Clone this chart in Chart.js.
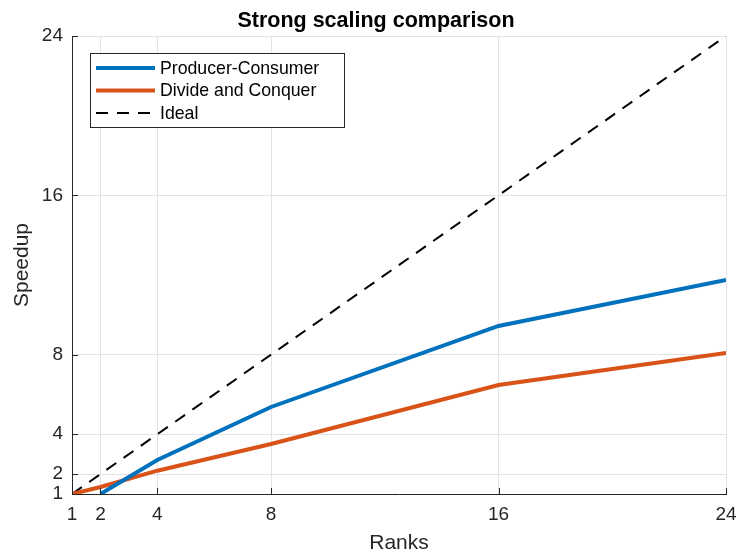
<!DOCTYPE html>
<html>
<head>
<meta charset="utf-8">
<script src="https://cdn.jsdelivr.net/npm/chart.js@4/dist/chart.umd.min.js"></script>
<style>
  html, body { margin: 0; padding: 0; background: #ffffff; }
  #wrap { width: 736px; height: 556px; }
</style>
</head>
<body>
<div id="wrap"><canvas id="c" width="736" height="556"></canvas></div>
<script>
// Strong scaling: speedup versus number of ranks
const ranks = [1, 2, 4, 8, 16, 24];
const producerConsumer = [null, 1.0, 2.71, 5.37, 9.44, 11.75];
const divideAndConquer = [1.0, 1.35, 2.17, 3.51, 6.47, 8.08];
const ideal = [1, 2, 4, 8, 16, 24];
const xTicks = [1, 2, 4, 8, 16, 24];
const yTicks = [1, 2, 4, 8, 16, 24];

const titleText = 'Strong scaling comparison';
const FONT = '"Liberation Sans", Arial, Helvetica, sans-serif';
const AXIS_COLOR = '#262626';
const GRID_COLOR = '#e3e3e3';

function toPoints(values) {
  return ranks.map((r, i) => ({ x: r, y: values[i] }));
}

// Inward-pointing tick marks on the left and bottom axes
const innerTicks = {
  id: 'innerTicks',
  afterDatasetsDraw(chart) {
    const { ctx, chartArea, scales } = chart;
    ctx.save();
    ctx.strokeStyle = AXIS_COLOR;
    ctx.lineWidth = 1;
    ctx.beginPath();
    xTicks.forEach(v => {
      const px = Math.round(scales.x.getPixelForValue(v)) + 0.5;
      ctx.moveTo(px, chartArea.bottom);
      ctx.lineTo(px, chartArea.bottom - 6);
    });
    yTicks.forEach(v => {
      const py = Math.round(scales.y.getPixelForValue(v)) + 0.5;
      ctx.moveTo(chartArea.left, py);
      ctx.lineTo(chartArea.left + 6, py);
    });
    ctx.stroke();
    ctx.restore();
  }
};

// Title above the plot
const topTitle = {
  id: 'topTitle',
  afterDraw(chart) {
    const { ctx } = chart;
    ctx.save();
    ctx.fillStyle = '#000000';
    ctx.font = 'bold 21.5px ' + FONT;
    ctx.textAlign = 'center';
    ctx.textBaseline = 'alphabetic';
    ctx.fillText(titleText, 376, 27);
    ctx.restore();
  }
};

// Boxed legend in the upper-left corner of the plot
const boxLegend = {
  id: 'boxLegend',
  afterDraw(chart) {
    const { ctx } = chart;
    const box = { x: 90.5, y: 53.5, w: 254, h: 74 };
    ctx.save();
    ctx.fillStyle = '#ffffff';
    ctx.fillRect(box.x, box.y, box.w, box.h);
    ctx.strokeStyle = AXIS_COLOR;
    ctx.lineWidth = 1;
    ctx.strokeRect(box.x, box.y, box.w, box.h);
    const rows = [68, 90.5, 113];
    ctx.font = '17.7px ' + FONT;
    ctx.textBaseline = 'middle';
    ctx.textAlign = 'left';
    chart.data.datasets.forEach((ds, i) => {
      const y = rows[i];
      ctx.beginPath();
      ctx.strokeStyle = ds.borderColor;
      ctx.lineWidth = ds.borderWidth;
      ctx.setLineDash(ds.borderDash || []);
      ctx.moveTo(96, y);
      ctx.lineTo(155, y);
      ctx.stroke();
      ctx.setLineDash([]);
      ctx.fillStyle = '#000000';
      ctx.fillText(ds.label, 160, y + 1);
    });
    ctx.restore();
  }
};

new Chart(document.getElementById('c'), {
  type: 'line',
  data: {
    datasets: [
      {
        label: 'Producer-Consumer',
        data: toPoints(producerConsumer),
        borderColor: '#0072BD',
        borderWidth: 4,
        pointRadius: 0,
        tension: 0
      },
      {
        label: 'Divide and Conquer',
        data: toPoints(divideAndConquer),
        borderColor: '#D95319',
        borderWidth: 4,
        pointRadius: 0,
        tension: 0
      },
      {
        label: 'Ideal',
        data: toPoints(ideal),
        borderColor: '#000000',
        borderWidth: 2,
        borderDash: [12, 9],
        pointRadius: 0,
        tension: 0
      }
    ]
  },
  options: {
    responsive: false,
    animation: false,
    devicePixelRatio: 1,
    layout: { padding: { top: 36, right: 10, left: 0, bottom: 0 } },
    plugins: {
      legend: { display: false },
      title: { display: false },
      tooltip: { enabled: false }
    },
    scales: {
      x: {
        type: 'linear',
        min: 1,
        max: 24,
        afterBuildTicks: s => { s.ticks = xTicks.map(v => ({ value: v })); },
        afterFit: s => { s.height = 62; s.paddingRight = 0; s.paddingLeft = 0; },
        grid: { color: GRID_COLOR, drawTicks: false, lineWidth: 1 },
        border: { display: true, color: AXIS_COLOR, width: 1 },
        ticks: {
          color: AXIS_COLOR,
          font: { family: FONT, size: 19 },
          padding: 9,
          maxRotation: 0,
          autoSkip: false
        },
        title: {
          display: true,
          text: 'Ranks',
          color: AXIS_COLOR,
          font: { family: FONT, size: 21 },
          padding: { top: 0, bottom: 0 }
        }
      },
      y: {
        type: 'linear',
        min: 1,
        max: 24,
        afterBuildTicks: s => { s.ticks = yTicks.map(v => ({ value: v })); },
        afterFit: s => { s.width = 72; s.paddingTop = 0; s.paddingBottom = 0; },
        grid: { color: GRID_COLOR, drawTicks: false, lineWidth: 1 },
        border: { display: true, color: AXIS_COLOR, width: 1 },
        ticks: {
          color: AXIS_COLOR,
          font: { family: FONT, size: 19 },
          padding: 9,
          autoSkip: false
        },
        title: {
          display: true,
          text: 'Speedup',
          color: AXIS_COLOR,
          font: { family: FONT, size: 21 },
          padding: { top: 10, bottom: 0 }
        }
      }
    }
  },
  plugins: [innerTicks, topTitle, boxLegend]
});
</script>
</body>
</html>
